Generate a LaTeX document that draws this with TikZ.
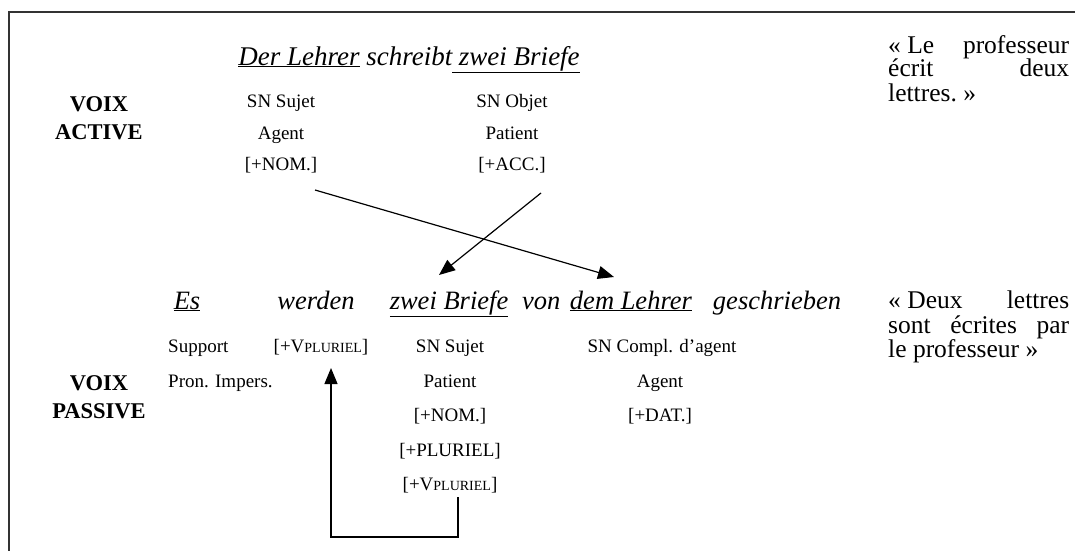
\documentclass[tikz,border=0pt]{standalone}
\usepackage{fontspec}
\setmainfont{Liberation Serif}
\usetikzlibrary{arrows.meta,calc}
\newcommand\fsc[1]{{\fontsize{14}{16}\selectfont #1}}
\begin{document}
\begin{tikzpicture}[x=1pt,y=-1pt,
  sent/.style={font=\fontsize{26.5}{30}\selectfont\itshape, anchor=base, inner sep=0pt},
  lab/.style={font=\fontsize{19}{22}\selectfont, anchor=base, inner sep=0pt},
  voix/.style={font=\fontsize{22.5}{26}\selectfont\bfseries, anchor=base, inner sep=0pt},
  tr/.style={font=\fontsize{25.5}{24}\selectfont, anchor=base west, inner sep=0pt},
  arr/.style={line width=1.2pt, -{Triangle[length=16pt,width=13pt]}},
]
\useasboundingbox (0,0) rectangle (1075,551);
\fill[white] (0,0) rectangle (1075,551);
\draw[line width=1.5pt, black!80] (1075,12) -- (9,12) -- (9,551);

% ---------- active voice ----------
\node[sent, font=\fontsize{27}{30}\selectfont\itshape] (act) at (409,65)
  {\underline{Der Lehrer} schreibt\underline{ zwei Briefe}};
\node[voix] (va1) at (99,111) {VOIX};
\node[voix] (va2) at (99,139) {ACTIVE};
\node[lab] (a11) at (281,107) {SN Sujet};
\node[lab] (a12) at (281,139) {Agent};
\node[lab] (a13) at (281,170) {[+NOM.]};
\node[lab] (a21) at (512,107) {SN Objet};
\node[lab] (a22) at (512,139) {Patient};
\node[lab] (a23) at (512,170) {[+ACC.]};
\node[tr] (ta1) at (888,53) {\makebox[181pt][s]{\mbox{« Le} professeur}};
\node[tr] (ta2) at (888,77) {\makebox[181pt][s]{écrit deux}};
\node[tr] (ta3) at (888,101) {lettres.~»};

% ---------- passive voice ----------
\node[sent] (p1) at (187,309) {\underline{Es}};
\node[sent] (p2) at (316,309) {werden};
\node[sent] (p3) at (449,309) {\underline{zwei Briefe}};
\node[sent] (p4) at (607,309) {von\hspace{3pt} \underline{dem Lehrer}};
\node[sent] (p5) at (777,309) {geschrieben};
\node[voix] (vp1) at (99,390) {VOIX};
\node[voix] (vp2) at (99,418) {PASSIVE};
\node[lab, anchor=base west] (s1) at (168,352) {Support};
\node[lab, anchor=base west] (s2) at (168,387) {Pron. Impers.};
\node[lab] (w1) at (321,352) {[+V\fsc{PLURIEL}]};
\node[lab] (z1) at (450,352) {SN Sujet};
\node[lab] (z2) at (450,387) {Patient};
\node[lab] (z3) at (450,421) {[+NOM.]};
\node[lab] (z4) at (450,456) {[+PLURIEL]};
\node[lab] (z5) at (450,490) {[+V\fsc{PLURIEL}]};
\node[lab] (l1) at (662,352) {SN Compl. d’agent};
\node[lab] (l2) at (660,387) {Agent};
\node[lab] (l3) at (660,421) {[+DAT.]};
\node[tr] (tp1) at (888,308) {\makebox[181pt][s]{\mbox{« Deux} lettres}};
\node[tr] (tp2) at (888,333) {\makebox[181pt][s]{sont écrites par}};
\node[tr] (tp3) at (888,357) {le professeur~»};

% ---------- connectors ----------
\coordinate (n1) at (315,190);
\coordinate (n2) at (614,277);
\coordinate (c1) at (541,193);
\coordinate (c2) at (439,275);
\draw[arr] (n1) -- (n2);
\draw[arr] (c1) -- (c2);
\coordinate (e0) at (458,497);
\coordinate (e1) at (331,368);
\draw[arr] (e0) -- (458,537) -- (331,537) -- (e1);
\end{tikzpicture}
\end{document}
